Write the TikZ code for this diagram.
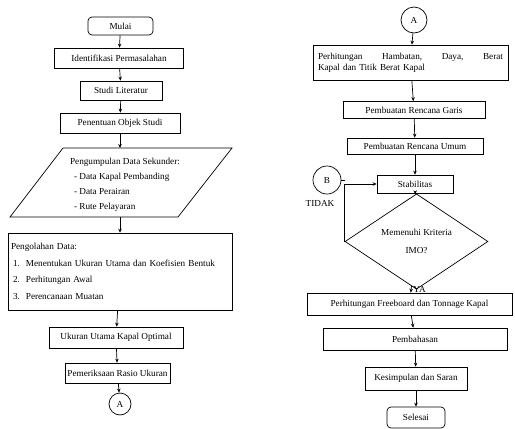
\documentclass[tikz,border=0pt]{standalone}
\usepackage{fontspec}
\setmainfont{Liberation Serif}
\usetikzlibrary{
  arrows.meta, % For arrow tips
  shapes.geometric % For the decision diamond
}

\begin{document}
\begin{tikzpicture}[
      x=1pt, y=-1pt, % Pixel-like coordinates
      line width=0.7pt, % Default line thickness
      >={Stealth[length=4pt,width=3.5pt]}, % Default arrow tip
      font=\fontsize{9.2}{11}\selectfont,
      proses/.style={draw, inner sep=2pt}, % Style for process boxes
      terminal/.style={draw, rounded corners=4pt, inner sep=2pt}, % Start / end
      konektor/.style={draw, circle, inner sep=0pt}, % Off-page connector
      keputusan/.style={draw, diamond, inner sep=0pt, align=center}, % Decision
      alur/.style={->}, % Style for flow arrows
    ]

    \useasboundingbox (0,0) rectangle (515,429);

    % Kolom kiri
    \node[terminal, minimum width=65, minimum height=18] (mulai) at (120.5,26) {Mulai};
    \node[proses, minimum width=129, minimum height=20] (identifikasi) at (119,58) {Identifikasi Permasalahan};
    \node[proses, minimum width=82, minimum height=19] (studi) at (121,90.5) {Studi Literatur};
    \node[proses, minimum width=120, minimum height=20] (penentuan) at (120,123) {Penentuan Objek Studi};

    % Data masukan (jajaran genjang)
    \draw (63,148) -- (232,148) -- (178,217) -- (10,217) -- cycle;
    \coordinate (dataatas) at (120,148);
    \coordinate (databawah) at (120,217);
    \node[align=left, font=\fontsize{9.2}{15}\selectfont] (data) at (125,185)
      {Pengumpulan Data Sekunder:\\
       \hspace{4pt}- Data Kapal Pembanding\\
       \hspace{4pt}- Data Perairan\\
       \hspace{4pt}- Rute Pelayaran};

    \node[proses, minimum width=224, minimum height=77, text width=218, align=left,
          font=\fontsize{9.2}{16.5}\selectfont] (olah) at (120,271.5)
      {Pengolahan Data:\\
       \hspace{2pt}1.\hspace{6pt}Menentukan Ukuran Utama dan Koefisien Bentuk\\
       \hspace{2pt}2.\hspace{6pt}Perhitungan Awal\\
       \hspace{2pt}3.\hspace{6pt}Perencanaan Muatan};
    \node[proses, minimum width=134, minimum height=21] (hasil) at (116,337.5) {Ukuran Utama Kapal Optimal};
    \node[proses, minimum width=105, minimum height=20] (periksa) at (117.5,373) {Pemeriksaan Rasio Ukuran};
    \node[konektor, minimum size=22] (ka) at (120,404) {A};

    \draw[alur] (mulai) -- (identifikasi);
    \draw[alur] (identifikasi) -- (studi);
    \draw[alur] (studi) -- (penentuan);
    \draw[alur] (penentuan) -- (dataatas);
    \draw[alur] (databawah) -- (olah);
    \draw[alur] (olah) -- (hasil);
    \draw[alur] (hasil) -- (periksa);
    \draw[alur] (periksa) -- (ka);

    % Kolom kanan
    \node[konektor, minimum size=26] (kb) at (414,20) {A};
    \node[proses, minimum width=195, minimum height=35, text width=185, align=left] (hambatan) at (410.5,62.5)
      {Perhitungan\hfill Hambatan,\hfill Daya,\hfill Berat\\Kapal dan Titik Berat Kapal};
    \node[proses, minimum width=142, minimum height=17] (garis) at (414,110) {Pembuatan Rencana Garis};
    \node[proses, minimum width=136, minimum height=16] (umum) at (415,146) {Pembuatan Rencana Umum};
    \node[proses, minimum width=76, minimum height=18] (stabil) at (415,184) {Stabilitas};
    \node[konektor, minimum size=28] (kc) at (327,180) {B};
    \node[keputusan, minimum width=143, minimum height=73, font=\fontsize{9.2}{18}\selectfont] (cek) at (416.5,241.5)
      {Memenuhi Kriteria\\IMO?};
    \node[proses, minimum width=205, minimum height=22] (freeboard) at (409.5,304) {Perhitungan Freeboard dan Tonnage Kapal};
    \node[proses, minimum width=184, minimum height=22] (bahas) at (415,339) {Pembahasan};
    \node[proses, minimum width=102, minimum height=23] (simpul) at (416,378.5) {Kesimpulan dan Saran};
    \node[terminal, minimum width=58, minimum height=21] (selesai) at (416,417.5) {Selesai};

    \draw[alur] (kb) -- (hambatan);
    \draw[alur] (hambatan) -- (garis);
    \draw[alur] (garis) -- (umum);
    \draw[alur] (umum) -- (stabil);
    \draw[alur] (stabil) -- (cek);
    \draw[alur] (cek) -- node[anchor=west, pos=0.55, xshift=2pt, inner sep=0pt] (ya) {YA} (freeboard);
    \draw[alur] (freeboard) -- (bahas);
    \draw[alur] (bahas) -- (simpul);
    \draw[alur] (simpul) -- (selesai);

    % Kembali bila tidak memenuhi
    \draw[alur] (cek.west) |- (stabil.west);
    \draw (kc) -- (kc -| cek.west);
    \node (tidak) at (320,203) {TIDAK};

  \end{tikzpicture}
\end{document}
